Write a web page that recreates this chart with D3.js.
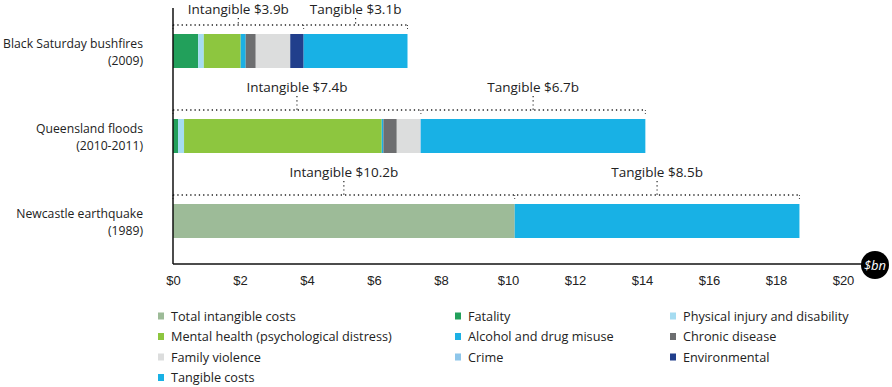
<!DOCTYPE html>
<html>
<head>
<meta charset="utf-8">
<script src="https://cdn.jsdelivr.net/npm/d3@7"></script>
<style>
  body { margin: 0; background: #fff; }
  svg { font-family: "Open Sans", "Noto Sans", sans-serif; }
  .tick text { font-size: 13px; fill: #222; }
</style>
</head>
<body>
<svg id="chart" width="892" height="387"></svg>
<script>
// events (two-line labels)
const eventNames = ["Black Saturday bushfires", "Queensland floods", "Newcastle earthquake"];
const eventYears = ["(2009)", "(2010-2011)", "(1989)"];

const categories = [
  "Total intangible costs", "Fatality", "Physical injury and disability",
  "Mental health (psychological distress)", "Alcohol and drug misuse", "Chronic disease",
  "Family violence", "Crime", "Environmental", "Tangible costs"
];
const colors = [
  "#9dbb98", "#22a05b", "#a5dcf1",
  "#8dc63f", "#1cb0e4", "#6d6e70",
  "#dcdddd", "#8ec6ea", "#213f8c", "#18b1e5"
];

// $bn per category, same order as categories
const blackSaturday = [0, 0.75, 0.17, 1.1, 0.15, 0.3, 1.03, 0, 0.4, 3.1];
const queenslandFloods = [0, 0.15, 0.18, 5.9, 0.05, 0.4, 0.7, 0.02, 0, 6.7];
const newcastleQuake = [10.2, 0, 0, 0, 0, 0, 0, 0, 0, 8.5];
const seriesValues = [blackSaturday, queenslandFloods, newcastleQuake];

const xTicks = [0, 2, 4, 6, 8, 10, 12, 14, 16, 18, 20];

const svg = d3.select("#chart");
const x = d3.scaleLinear().domain([0, 20]).range([173, 843]);
const y = d3.scaleBand()
  .domain(eventNames)
  .range([8, 264])
  .paddingInner(0.6)
  .paddingOuter(0.306);

// stacked rows
const rows = eventNames.map((name, i) => {
  let acc = 0;
  const segs = seriesValues[i].map((v, j) => {
    const s = { x0: acc, x1: acc + v, color: colors[j], cat: categories[j] };
    acc += v;
    return s;
  }).filter(s => s.x1 > s.x0);
  const tangible = seriesValues[i][9];
  const intangible = d3.sum(seriesValues[i].slice(0, 9));
  return { name, year: eventYears[i], segs, intangible, tangible };
});

const g = svg.append("g");

rows.forEach(r => {
  const by = y(r.name);
  const bh = y.bandwidth();

  g.selectAll(null)
    .data(r.segs)
    .enter().append("rect")
    .attr("x", d => x(d.x0))
    .attr("y", by)
    .attr("width", d => x(d.x1) - x(d.x0))
    .attr("height", bh)
    .attr("fill", d => d.color);

  // dotted bracket above the bar
  const ly = by - 9;
  g.append("line")
    .attr("x1", x(0)).attr("x2", x(r.intangible + r.tangible))
    .attr("y1", ly).attr("y2", ly)
    .attr("stroke", "#222").attr("stroke-width", 1.3)
    .attr("stroke-dasharray", "1.3,3");

  [0, r.intangible, r.intangible + r.tangible].forEach(v => {
    g.append("line")
      .attr("x1", x(v)).attr("x2", x(v))
      .attr("y1", ly).attr("y2", ly + 6)
      .attr("stroke", "#444").attr("stroke-width", 1)
      .attr("stroke-dasharray", "1,2");
  });

  const textY = Math.max(14, ly - 18);
  const labels = [
    { text: `Intangible $${r.intangible.toFixed(1)}b`, mid: r.intangible / 2 },
    { text: `Tangible $${r.tangible.toFixed(1)}b`, mid: r.intangible + r.tangible / 2 }
  ];
  labels.forEach(l => {
    g.append("text")
      .attr("x", x(l.mid))
      .attr("y", textY)
      .attr("text-anchor", "middle")
      .attr("font-size", 13.5)
      .attr("fill", "#222")
      .text(l.text);
    g.append("line")
      .attr("x1", x(l.mid)).attr("x2", x(l.mid))
      .attr("y1", textY + 4).attr("y2", ly)
      .attr("stroke", "#222").attr("stroke-width", 1.2)
      .attr("stroke-dasharray", "1.2,3");
  });

  // category label
  const cy = by + bh / 2;
  const t = g.append("text")
    .attr("text-anchor", "end")
    .attr("font-size", 12.2)
    .attr("fill", "#222");
  t.append("tspan").attr("x", 143).attr("y", cy - 3).text(r.name);
  t.append("tspan").attr("x", 143).attr("y", cy + 14).text(r.year);
});

// axes
g.append("line")
  .attr("x1", 173).attr("x2", 173)
  .attr("y1", 8).attr("y2", 264)
  .attr("stroke", "#111").attr("stroke-width", 1.5);

const xAxis = svg.append("g")
  .attr("transform", "translate(0,264)")
  .call(d3.axisBottom(x).tickValues(xTicks).tickSize(0).tickPadding(12).tickFormat(d => "$" + d));
xAxis.select(".domain").remove();
xAxis.append("line")
  .attr("x1", 173).attr("x2", 868)
  .attr("stroke", "#111").attr("stroke-width", 1.5);

svg.append("circle").attr("cx", 875).attr("cy", 265).attr("r", 14).attr("fill", "#000");
svg.append("text")
  .attr("x", 875).attr("y", 270)
  .attr("text-anchor", "middle")
  .attr("font-size", 13)
  .attr("font-style", "italic")
  .attr("fill", "#fff")
  .text("$bn");

// legend
const legCols = [158, 455, 670];
const legRows = [316, 336.5, 357, 377.5];
const legend = svg.append("g")
  .selectAll("g")
  .data(categories)
  .enter().append("g")
  .attr("transform", (d, i) => `translate(${legCols[i % 3]},${legRows[Math.floor(i / 3)]})`);
legend.append("rect")
  .attr("x", 0).attr("y", -3.5)
  .attr("width", 6).attr("height", 7)
  .attr("fill", (d, i) => colors[i]);
legend.append("text")
  .attr("x", 13).attr("y", 4.5)
  .attr("font-size", 12.7)
  .attr("fill", "#222")
  .text(d => d);
</script>
</body>
</html>
